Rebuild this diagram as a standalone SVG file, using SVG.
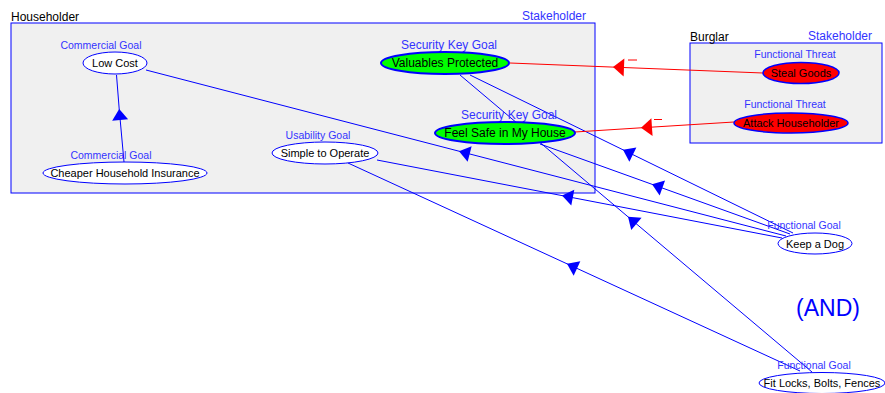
<svg xmlns="http://www.w3.org/2000/svg" width="885" height="393" viewBox="0 0 885 393">
  <style>
    text { font-family: "Liberation Sans", Arial, sans-serif; }
    .box { fill: #f0f0f0; stroke: #0000ff; stroke-width: 1; }
    .owner { font-size: 12px; fill: #000000; }
    .stake { font-size: 12px; fill: #3333ff; }
    .kind { font-size: 10.5px; fill: #3333ff; text-anchor: middle; }
    .name { font-size: 11px; fill: #000000; text-anchor: middle; }
    .goal { fill: #ffffff; stroke: #0000ff; stroke-width: 1; }
    .key { fill: #00ff00; stroke: #0000ff; stroke-width: 2; }
    .threat { fill: #ff0000; stroke: #0000ff; stroke-width: 1.5; }
    .link { fill: none; stroke: #0000ff; stroke-width: 1; marker-mid: url(#blueTri); }
    .neg { fill: none; stroke: #ff0000; stroke-width: 1; marker-mid: url(#redTri); }
    .minus { stroke: #ff0000; stroke-width: 1; }
    .and { font-size: 23px; fill: #0000ff; text-anchor: middle; }
  </style>
  <defs>
    <marker id="blueTri" markerUnits="userSpaceOnUse" markerWidth="14" markerHeight="18" refX="12" refY="8" orient="auto" overflow="visible">
      <path d="M12,8 L1,0 L1,16 Z" fill="#0000ff"/>
    </marker>
    <marker id="redTri" markerUnits="userSpaceOnUse" markerWidth="14" markerHeight="20" refX="12" refY="9" orient="auto" overflow="visible">
      <path d="M12,9 L1,0 L1,18 Z" fill="#ff0000"/>
    </marker>
  </defs>

  <!-- stakeholder boundaries -->
  <g id="householder">
    <rect class="box" x="11" y="23" width="584" height="170"/>
    <text class="owner" x="11" y="21">Householder</text>
    <text class="stake" x="586" y="20" text-anchor="end">Stakeholder</text>
  </g>
  <g id="burglar">
    <rect class="box" x="690" y="43" width="192" height="100"/>
    <text class="owner" x="690" y="41">Burglar</text>
    <text class="stake" x="872" y="40" text-anchor="end">Stakeholder</text>
  </g>

  <!-- connectors: each path runs from source to target, the arrowhead sits on the middle vertex -->
  <g id="connectors">
    <path class="link" d="M124,162 L119.2,109 L116.5,75"/>
    <path class="link" d="M786,236 L459,151.2 L146,70"/>
    <path class="link" d="M782,238 L562,195.6 L377,160"/>
    <path class="link" d="M800,371 L567,263.8 L348,163"/>
    <path class="link" d="M793,233 L623,149.8 L470,75"/>
    <path class="link" d="M790,234 L652,184.3 L540,144"/>
    <path class="link" d="M812,372 L628,216.8 L460,75"/>
    <path class="neg" d="M763,73 L613,67.1 L510,63"/>
    <path class="neg" d="M734,122 L641,127.8 L575,132"/>
    <line class="minus" x1="628" y1="60" x2="637" y2="60"/>
    <line class="minus" x1="654" y1="119.5" x2="662" y2="119.5"/>
  </g>

  <!-- householder goals -->
  <g id="low-cost">
    <text class="kind" x="101" y="49">Commercial Goal</text>
    <ellipse class="goal" cx="115" cy="63" rx="32" ry="11"/>
    <text class="name" x="115" y="67">Low Cost</text>
  </g>
  <g id="cheaper-insurance">
    <text class="kind" x="111" y="159">Commercial Goal</text>
    <ellipse class="goal" cx="125" cy="173" rx="82" ry="11"/>
    <text class="name" x="125" y="177">Cheaper Household Insurance</text>
  </g>
  <g id="simple-to-operate">
    <text class="kind" x="318" y="139">Usability Goal</text>
    <ellipse class="goal" cx="325" cy="153" rx="53" ry="11"/>
    <text class="name" x="325" y="157">Simple to Operate</text>
  </g>
  <g id="valuables-protected">
    <text class="kind" x="449" y="49" style="font-size:12px">Security Key Goal</text>
    <ellipse class="key" cx="445" cy="63" rx="64" ry="11"/>
    <text class="name" x="445" y="67" style="font-size:12px">Valuables Protected</text>
  </g>
  <g id="feel-safe">
    <text class="kind" x="509" y="119" style="font-size:12px">Security Key Goal</text>
    <ellipse class="key" cx="505" cy="133" rx="70" ry="11"/>
    <text class="name" x="505" y="137" style="font-size:12px">Feel Safe in My House</text>
  </g>

  <!-- burglar threats -->
  <g id="steal-goods">
    <text class="kind" x="795" y="58">Functional Threat</text>
    <ellipse class="threat" cx="801" cy="73" rx="38" ry="10.5"/>
    <text class="name" x="801" y="77">Steal Goods</text>
  </g>
  <g id="attack-householder">
    <text class="kind" x="785" y="108">Functional Threat</text>
    <ellipse class="threat" cx="791" cy="123" rx="57" ry="10"/>
    <text class="name" x="791" y="127">Attack Householder</text>
  </g>

  <!-- countermeasures -->
  <g id="keep-a-dog">
    <text class="kind" x="804" y="229">Functional Goal</text>
    <ellipse class="goal" cx="815" cy="243.5" rx="37" ry="10.5"/>
    <text class="name" x="815" y="247.5">Keep a Dog</text>
  </g>
  <g id="fit-locks">
    <text class="kind" x="814" y="369">Functional Goal</text>
    <ellipse class="goal" cx="822" cy="383" rx="63" ry="10.5"/>
    <text class="name" x="822" y="387">Fit Locks, Bolts, Fences</text>
  </g>

  <text class="and" x="828" y="316">(AND)</text>
</svg>
